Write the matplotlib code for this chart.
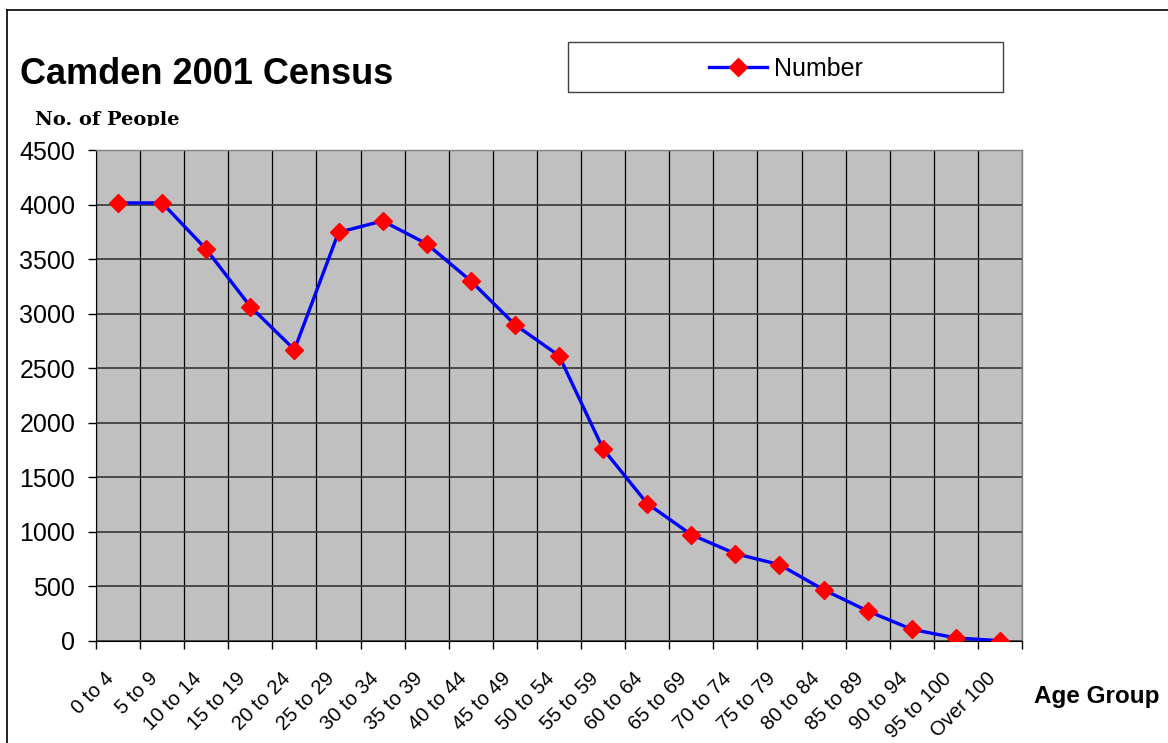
import matplotlib
matplotlib.use("Agg")
import matplotlib.pyplot as plt
from matplotlib.lines import Line2D
from matplotlib.patches import Rectangle
from matplotlib.transforms import ScaledTranslation, Bbox, TransformedBbox

# =========================
# DATA
# =========================
age_groups = ["0 to 4", "5 to 9", "10 to 14", "15 to 19", "20 to 24", "25 to 29",
              "30 to 34", "35 to 39", "40 to 44", "45 to 49", "50 to 54", "55 to 59",
              "60 to 64", "65 to 69", "70 to 74", "75 to 79", "80 to 84", "85 to 89",
              "90 to 94", "95 to 100", "Over 100"]
number = [4015, 4015, 3590, 3065, 2670, 3745, 3850, 3640, 3300, 2900, 2615, 1760,
          1260, 975, 800, 700, 470, 275, 107, 28, 3]
y_ticks = [0, 500, 1000, 1500, 2000, 2500, 3000, 3500, 4000, 4500]

plt.rcParams["font.family"] = ["Liberation Sans", "DejaVu Sans"]

W, H = 1168, 743
fig = plt.figure(figsize=(W / 100, H / 100), dpi=100)
fig.patch.set_facecolor("white")

# chart frame (left + top edges visible)
fig.add_artist(Line2D([7 / W, 7 / W], [0, 1 - 10 / H], transform=fig.transFigure,
                      color="black", lw=1.2))
fig.add_artist(Line2D([7 / W, 1], [1 - 10 / H, 1 - 10 / H], transform=fig.transFigure,
                      color="black", lw=1.2))

ax = fig.add_axes([96 / W, 1 - 641 / H, (1022 - 96) / W, (641 - 150) / H])
ax.set_facecolor("#C0C0C0")

x = list(range(len(age_groups)))
ax.plot(x, number, color="#0000FF", lw=2.4, marker="D", ms=9,
        mfc="#FF0000", mec="#FF0000", label="Number", zorder=3)

ax.set_xlim(-0.5, len(age_groups) - 0.5)
ax.set_ylim(0, 4500)

# gridlines
ax.set_yticks(y_ticks)
ax.set_yticklabels([str(v) for v in y_ticks], fontsize=18)
bounds = [i - 0.5 for i in range(len(age_groups) + 1)]
ax.set_xticks(bounds)
ax.set_xticklabels([])
ax.set_xticks(x, minor=True)
ax.set_xticklabels(age_groups, minor=True, fontsize=14.5, rotation=45,
                   ha="right", va="top", rotation_mode="anchor")
ax.tick_params(axis="x", which="major", length=6, width=1, color="black", direction="out")
ax.tick_params(axis="x", which="minor", length=0, pad=20)
ax.tick_params(axis="y", length=6, width=1, color="black", pad=9)

offset = ScaledTranslation(-14 / 100, 0, fig.dpi_scale_trans)
for lab in ax.get_xticklabels(minor=True):
    lab.set_transform(lab.get_transform() + offset)

ax.grid(axis="y", color="#404040", lw=1.3, zorder=1)
ax.grid(axis="x", which="major", color="black", lw=0.9, zorder=1)
ax.set_axisbelow(True)

for s in ["top", "right"]:
    ax.spines[s].set_color("#808080")
    ax.spines[s].set_linewidth(1)
ax.spines["left"].set_color("black")
ax.spines["bottom"].set_color("black")

# titles
fig.text(20 / W, 1 - 75 / H, "Camden 2001 Census", fontsize=26, fontweight="bold",
         ha="left", va="center")
ylab = fig.text(35 / W, 1 - 111 / H, "No. of People", fontsize=14, fontweight="bold",
                family=["DejaVu Serif"], ha="left", va="top")
ylab.set_clip_box(TransformedBbox(Bbox([[0, 1 - 126 / H], [1, 1]]), fig.transFigure))
fig.text(1034 / W, 1 - 697 / H, "Age Group", fontsize=17.5, fontweight="bold",
         ha="left", va="center")

# legend
fig.add_artist(Rectangle((568 / W, 1 - 92 / H), (1003 - 568) / W, (92 - 42) / H,
                         transform=fig.transFigure, facecolor="white",
                         edgecolor="#404040", lw=1))
fig.legend(loc="center", bbox_to_anchor=(786 / W, 1 - 69 / H), frameon=False,
           fontsize=18, handlelength=2.3, handletextpad=0.3)

fig.savefig("out.png", dpi=100)
